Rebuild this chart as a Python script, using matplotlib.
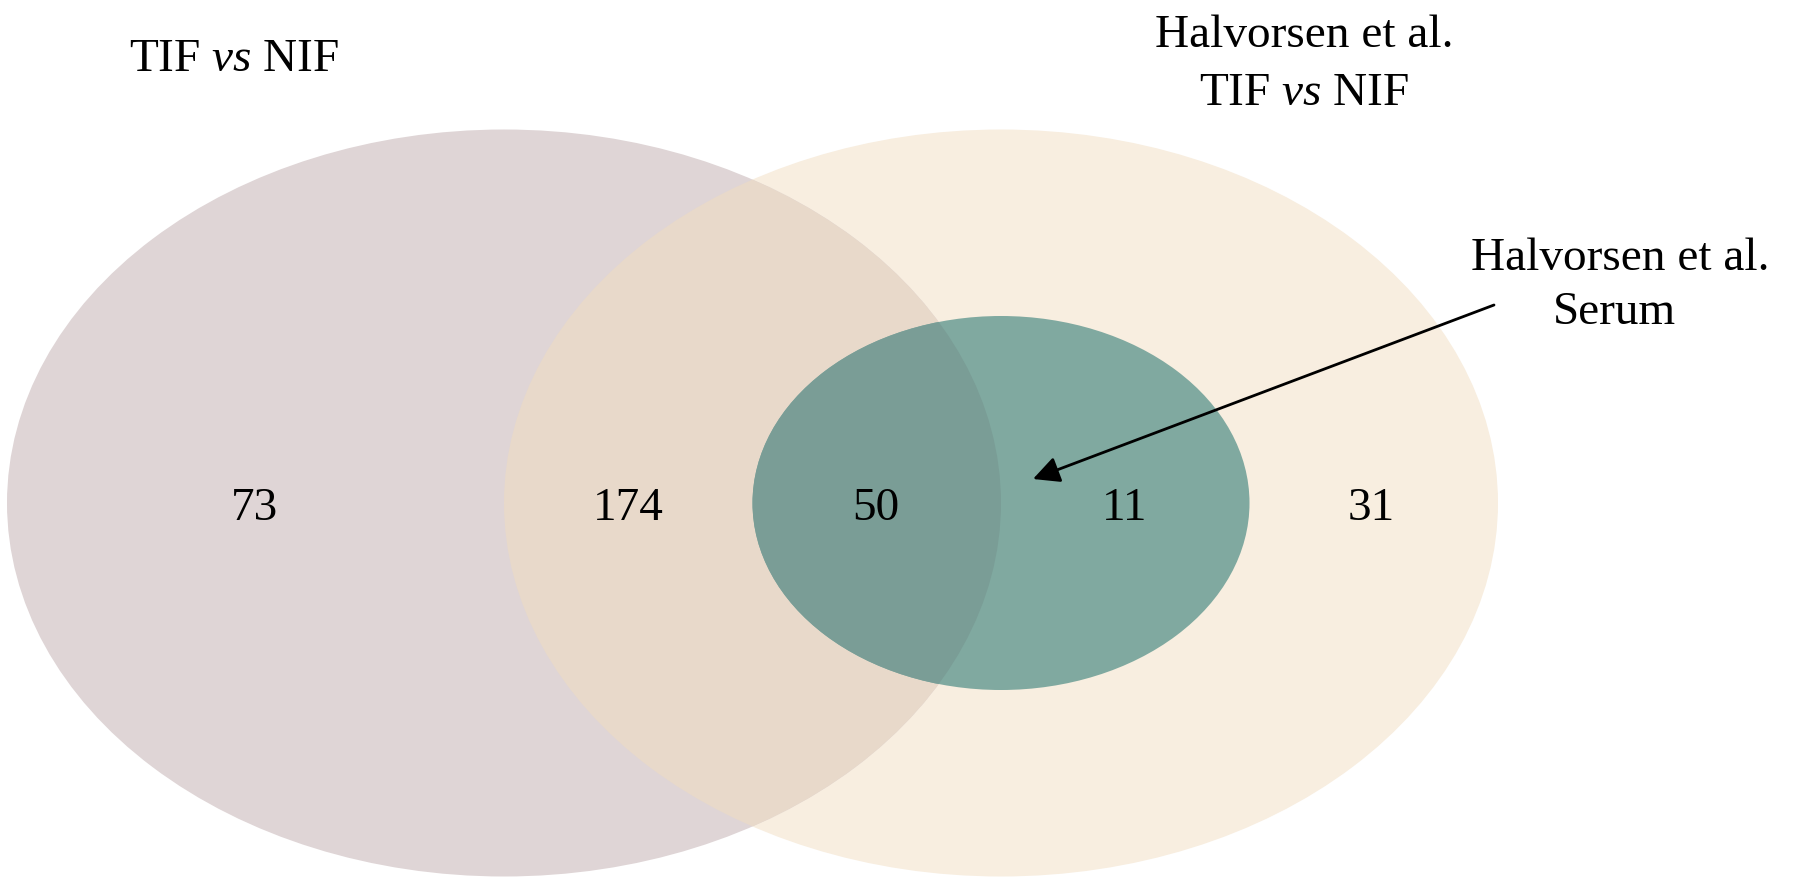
import matplotlib.pyplot as plt
from matplotlib.patches import Ellipse

plt.rcParams['font.family'] = ['Liberation Serif', 'DejaVu Serif']
plt.rcParams['mathtext.fontset'] = 'custom'
plt.rcParams['mathtext.rm'] = 'Liberation Serif'
plt.rcParams['mathtext.it'] = 'Liberation Serif:italic'

# region counts, left to right
counts = [73, 174, 50, 11, 31]

col_left = '#DFD5D6'
col_right = '#F8EEE0'
col_both = '#E8D9CA'
col_serum = '#80A9A0'
col_serum_both = '#7A9D96'

fig = plt.figure(figsize=(18.04, 8.80), dpi=100)
ax = fig.add_axes([0, 0, 1, 1])
ax.set_xlim(0, 1804)
ax.set_ylim(880, 0)
ax.set_aspect('equal')
ax.axis('off')

# set shapes (pixel-like coords)
left = Ellipse((504, 503), 994, 747, color=col_left, lw=0)
right = Ellipse((1001, 503), 994, 747, color=col_right, lw=0)
ax.add_patch(right)
ax.add_patch(left)
both = Ellipse((1001, 503), 994, 747, color=col_both, lw=0)
ax.add_patch(both)
both.set_clip_path(left)

serum = Ellipse((1001, 503), 497, 374, color=col_serum, lw=0)
ax.add_patch(serum)
serum2 = Ellipse((1001, 503), 497, 374, color=col_serum_both, lw=0)
ax.add_patch(serum2)
serum2.set_clip_path(left)

xs = [255, 628, 876, 1125, 1371]
for x, n in zip(xs, counts):
    ax.text(x, 520, str(n), fontsize=34, ha='center', va='baseline')

fs = 34
ax.text(234, 71, r'TIF $\mathit{vs}$ NIF', fontsize=fs, ha='center', va='baseline')
ax.text(1304, 47, 'Halvorsen et al.', fontsize=fs, ha='center', va='baseline')
ax.text(1304, 105, r'TIF $\mathit{vs}$ NIF', fontsize=fs, ha='center', va='baseline')
ax.text(1620, 270, 'Halvorsen et al.', fontsize=fs, ha='center', va='baseline')
ax.text(1614, 324, 'Serum', fontsize=fs, ha='center', va='baseline')

ax.annotate('', xy=(1033, 479), xytext=(1494, 305),
            arrowprops=dict(arrowstyle='-|>', color='black', lw=2,
                            mutation_scale=40, shrinkA=0, shrinkB=0))

fig.savefig('out.png', dpi=100)
